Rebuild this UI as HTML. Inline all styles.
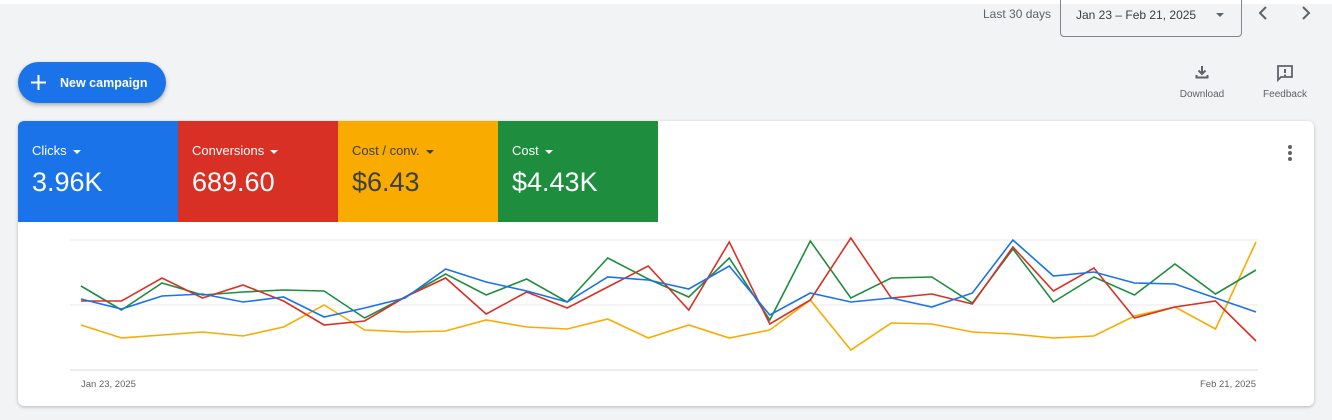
<!DOCTYPE html>
<html><head><meta charset="utf-8"><style>
body{margin:0;width:1332px;height:420px;overflow:hidden;background:#f1f3f4;font-family:"Liberation Sans",sans-serif;position:relative}
.abs{position:absolute}
.tile{position:absolute;top:121px;height:101px;width:160px;color:#fff}
.tile .lab{position:absolute;left:14px;top:22px;font-size:13px}
.tile .val{position:absolute;left:14px;top:46px;font-size:27px}
.caret{display:inline-block;width:0;height:0;border-left:4px solid transparent;border-right:4px solid transparent;border-top:4px solid currentColor;margin-left:6px;vertical-align:middle}
</style></head><body>
<div class="abs" style="left:0;top:0;width:1332px;height:4px;background:#fff"></div>
<div class="abs" style="left:983px;top:7px;font-size:12px;color:#5f6368">Last 30 days</div>
<div class="abs" style="left:1060px;top:-4px;width:182px;height:41px;border:1px solid #80868b;border-radius:4px;box-sizing:border-box;font-size:12px;color:#3c4043"><span style="position:absolute;left:15px;top:11px">Jan 23 – Feb 21, 2025</span><span class="caret" style="position:absolute;left:155px;top:16px;margin:0;color:#5f6368"></span></div>
<svg class="abs" style="left:1256px;top:5px" width="16" height="16"><path d="M10 2 4 8l6 6" stroke="#5f6368" stroke-width="2" fill="none"/></svg>
<svg class="abs" style="left:1297px;top:5px" width="16" height="16"><path d="M6 2l6 6-6 6" stroke="#5f6368" stroke-width="2" fill="none"/></svg>
<div class="abs" style="left:18px;top:62px;width:148px;height:41px;border-radius:21px;background:#1a73e8;box-shadow:0 2px 4px rgba(0,0,0,.3);color:#fff"><svg style="position:absolute;left:13px;top:13px" width="15" height="15"><path d="M7.5 0v15M0 7.5h15" stroke="#fff" stroke-width="2"/></svg><span style="position:absolute;left:42px;top:14px;font-size:12.5px;font-weight:bold">New campaign</span></div>
<div class="abs" style="left:1172px;top:64px;width:60px;text-align:center;color:#5f6368;font-size:10px"><svg width="16" height="16" viewBox="0 0 16 16"><path d="M8 2v8M4.5 6.5 8 10l3.5-3.5M2.5 11v2.5h11V11" stroke="#5f6368" stroke-width="2" fill="none"/></svg><div style="margin-top:6px">Download</div></div>
<div class="abs" style="left:1255px;top:64px;width:60px;text-align:center;color:#5f6368;font-size:10px"><svg width="18" height="18" viewBox="0 0 18 18"><path d="M2 2h14v11H5l-3 3z" stroke="#5f6368" stroke-width="1.8" fill="none"/><path d="M9 5v4M9 10.5v1.5" stroke="#5f6368" stroke-width="2"/></svg><div style="margin-top:4px">Feedback</div></div>
<div class="abs" style="left:18px;top:121px;width:1296px;height:285px;background:#fff;border-radius:6px;box-shadow:0 1px 3px rgba(0,0,0,.25)"></div>
<div class="tile" style="left:18px;background:#1a73e8;border-top-left-radius:6px"><div class="lab">Clicks<span class="caret"></span></div><div class="val">3.96K</div></div>
<div class="tile" style="left:178px;background:#d93025"><div class="lab">Conversions<span class="caret"></span></div><div class="val">689.60</div></div>
<div class="tile" style="left:338px;background:#f9ab00;color:#3c4043"><div class="lab">Cost / conv.<span class="caret"></span></div><div class="val">$6.43</div></div>
<div class="tile" style="left:498px;background:#1e8e3e"><div class="lab">Cost<span class="caret"></span></div><div class="val">$4.43K</div></div>
<div class="abs" style="left:1288px;top:145px;width:4px"><div style="width:4px;height:4px;border-radius:2px;background:#5f6368;margin-bottom:2px"></div><div style="width:4px;height:4px;border-radius:2px;background:#5f6368;margin-bottom:2px"></div><div style="width:4px;height:4px;border-radius:2px;background:#5f6368"></div></div>
<svg class="abs" id="chart" style="left:0;top:0" width="1332" height="420"></svg>
<script>
const blue=[71,61,74,76,68,73,53,62,72,101,88,79,68,93,90,81,104,55,77,68,72,63,77,130,94,98,87,86,72,58];
const red=[69,69,92,72,85,69,45,49,73,92,56,78,62,83,104,60,128,46,70,132,72,76,66,123,79,102,52,63,69,29];
const green=[84,60,87,75,78,80,79,52,73,96,75,91,68,112,91,73,112,50,129,72,92,93,67,121,68,93,75,106,76,100];
const yellow=[45,32,35,38,34,43,65,40,38,39,50,43,41,51,32,45,32,40,70,20,47,46,38,36,32,34,54,63,41,128];
const xLabels=["Jan 23, 2025","Feb 21, 2025"];
const gridVals=[0,65,130];
const svg=document.getElementById('chart');const NS='http://www.w3.org/2000/svg';
const x0=81,x1=1256,y0=370,yMax=130,yTop=240;
const X=i=>x0+(x1-x0)*i/(blue.length-1);
const Y=v=>y0-(y0-yTop)*v/yMax;
gridVals.forEach(g=>{const l=document.createElementNS(NS,'line');


l.setAttribute('x1',70);l.setAttribute('x2',1258);l.setAttribute('y1',Y(g));l.setAttribute('y2',Y(g));l.setAttribute('stroke',g===0?'#dadce0':'#e8eaed');l.setAttribute('stroke-width',1);svg.appendChild(l);});
[[yellow,'#f9ab00','cost-per-conv-line'],[green,'#1e8e3e','cost-line'],[red,'#d93025','conversions-line'],[blue,'#1a73e8','clicks-line']].forEach(([d,c,n])=>{
const p=document.createElementNS(NS,'polyline');


p.setAttribute('points',d.map((v,i)=>X(i)+','+Y(v)).join(' '));p.setAttribute('fill','none');p.setAttribute('stroke',c);p.setAttribute('stroke-width',1.6);svg.appendChild(p);});
[[0,'start'],[blue.length-1,'end']].forEach(([i,a],k)=>{const t=document.createElementNS(NS,'text');


t.setAttribute('x',X(i));t.setAttribute('y',387);t.setAttribute('text-anchor',a);t.setAttribute('font-size',9.5);t.setAttribute('fill','#5f6368');t.setAttribute('font-family','Liberation Sans, sans-serif');t.textContent=xLabels[k];svg.appendChild(t);});
</script>
</body></html>
